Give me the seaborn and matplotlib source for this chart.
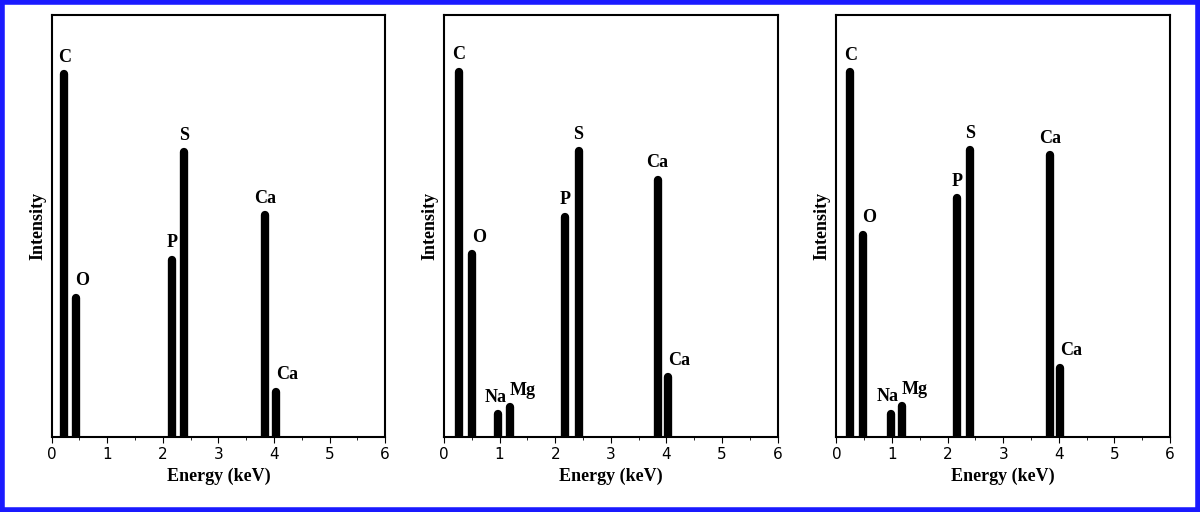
import matplotlib
matplotlib.use("Agg")
import matplotlib.pyplot as plt
import seaborn as sns
from matplotlib.patches import Rectangle

sns.set_style("ticks")
plt.rcParams['font.family'] = ['Liberation Serif', 'DejaVu Serif']
plt.rcParams['text.color'] = 'black'
plt.rcParams['axes.labelcolor'] = 'black'
plt.rcParams['xtick.color'] = 'black'

# element labels and energies (keV) per panel
elements = [
    ["C", "O", "P", "S", "Ca", "Ca"],
    ["C", "O", "Na", "Mg", "P", "S", "Ca", "Ca"],
    ["C", "O", "Na", "Mg", "P", "S", "Ca", "Ca"],
]
energies = [
    [0.23, 0.43, 2.17, 2.39, 3.84, 4.03],
    [0.27, 0.50, 0.98, 1.18, 2.17, 2.42, 3.84, 4.03],
    [0.25, 0.47, 0.98, 1.18, 2.17, 2.41, 3.84, 4.03],
]
intensities = [
    [0.86, 0.33, 0.42, 0.675, 0.526, 0.107],
    [0.866, 0.433, 0.054, 0.07, 0.522, 0.678, 0.61, 0.141],
    [0.865, 0.479, 0.055, 0.073, 0.566, 0.68, 0.668, 0.164],
]

fig = plt.figure(figsize=(12, 5.12), dpi=100)
fig.patches.append(Rectangle((0.002, 0.004), 0.996, 0.992, transform=fig.transFigure,
                             fill=False, edgecolor="#1a1aff", linewidth=4))
lefts = [0.043, 0.370, 0.697]
for i in range(3):
    ax = fig.add_axes([lefts[i], 0.147, 0.278, 0.823])
    ax.vlines(energies[i], 0, intensities[i], color="black", linewidth=6, capstyle="round")
    for el, e, h in zip(elements[i], energies[i], intensities[i]):
        dx = -0.05 if el == "Na" else 0.0
        ha = "left" if el in ("O", "Mg") or (el == "Ca" and e > 4) else "center"
        ax.text(e + dx, h + 0.02, el, ha=ha, va="bottom", fontsize=13, fontweight="bold")
    ax.set_xlim(0, 6)
    ax.set_ylim(0, 1.0)
    ax.set_yticks([])
    ax.set_xticks(range(7))
    ax.set_xticks([x + 0.5 for x in range(6)], minor=True)
    ax.tick_params(axis="x", labelsize=11, direction="out", length=4)
    for lab in ax.get_xticklabels():
        lab.set_family("DejaVu Sans")
    ax.set_xlabel("Energy (keV)", fontsize=13, fontweight="bold")
    ax.set_ylabel("Intensity", fontsize=13, fontweight="bold")
    for s in ax.spines.values():
        s.set_linewidth(1.5)
        s.set_color("black")

fig.savefig("out.png", dpi=100)
